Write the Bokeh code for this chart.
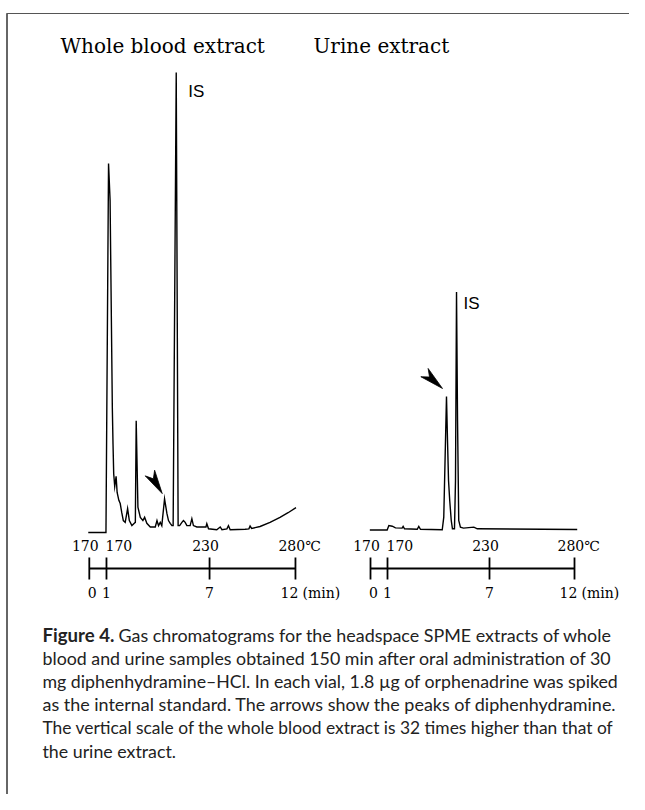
import math
from bokeh.plotting import figure
from bokeh.models import Range1d
from bokeh.core.properties import value
from bokeh.embed import file_html
from bokeh.resources import INLINE

# ---------------- data ----------------
# Whole blood extract: retention time (min) vs detector signal (IS peak = 100)
blood_time = [-0.06, 0.97, 1.12, 1.21, 1.34, 1.38, 1.42, 1.48, 1.56, 1.62, 1.72, 1.80,
              1.89, 1.98, 2.09, 2.23, 2.33, 2.48, 2.62, 2.68, 2.73, 2.83, 2.97, 3.12,
              3.22, 3.35, 3.55, 3.84, 3.94, 4.03, 4.13, 4.22, 4.38, 4.52, 4.61, 4.71,
              4.81, 4.88, 5.06, 5.17, 5.26, 5.39, 5.48, 5.58, 5.68, 5.87, 5.97, 6.06,
              6.26, 6.45, 6.79, 6.84, 6.94, 7.42, 7.62, 7.72, 8.01, 8.10, 8.20, 9.07,
              9.29, 9.36, 9.45, 9.94, 10.52, 11.10, 11.57, 12.03]
blood_signal = [0.0, 0.0, 80.2, 72.2, 27.2, 19.3, 12.8, 10.0, 12.2, 8.7, 7.0, 6.3,
                4.3, 2.6, 2.2, 5.2, 2.6, 1.5, 2.0, 2.2, 24.3, 5.5, 3.3, 2.6,
                3.3, 2.0, 1.2, 1.2, 2.6, 1.5, 2.2, 1.5, 7.3, 4.1, 2.6, 2.0,
                1.5, 1.5, 100.0, 1.5, 1.5, 2.2, 2.6, 2.2, 1.5, 1.5, 3.0, 1.5,
                1.2, 1.2, 1.2, 1.9, 0.8, 0.6, 1.2, 0.6, 0.8, 1.5, 0.6, 0.7,
                0.8, 1.4, 0.9, 1.3, 2.2, 3.3, 4.3, 5.4]

# Urine extract: retention time (min) vs detector signal (IS peak = 100)
urine_time = [-0.04, 0.98, 1.08, 1.28, 1.47, 1.86, 1.92, 2.00, 2.75, 2.84, 2.94,
              4.22, 4.31, 4.47, 4.53, 4.59, 4.66, 4.75, 4.82, 4.94, 5.00, 5.06,
              5.12, 5.19, 5.29, 5.47, 6.08, 6.28, 12.16]
urine_signal = [0.0, 0.0, 1.9, 1.6, 0.9, 0.8, 1.5, 0.5, 0.3, 1.5, 0.3,
                0.1, 5.4, 56.1, 37.6, 20.8, 12.4, 4.0, 0.5, 0.5, 20.8, 100.0,
                46.0, 4.0, 1.2, 0.8, 1.2, 0.5, 0.2]

# retention of diphenhydramine peaks (arrowed)
blood_arrow_peak = 4.38
urine_arrow_peak = 4.47

tick_minutes = [0, 1, 7, 12]
tick_min_labels = ["0", "1", "7", "12"]
tick_temp_labels = ["170", "170", "230", "280\u2103"]
unit_label = "(min)"
panel_titles = ["Whole blood extract", "Urine extract"]
peak_label = "IS"
caption_lead = "Figure 4."
caption_lines = [
    "Gas chromatograms for the headspace SPME extracts of whole",
    "blood and urine samples obtained 150 min after oral administration of 30",
    "mg diphenhydramine\u2013HCl. In each vial, 1.8 \u00b5g of orphenadrine was spiked",
    "as the internal standard. The arrows show the peaks of diphenhydramine.",
    "The vertical scale of the whole blood extract is 32 times higher than that of",
    "the urine extract.",
]

# ---------------- layout (pixels of the picture) ----------------
W, H = 629, 794

SERIF = "DejaVu Serif"
SANS = "Liberation Sans"
CAPFONT = "Lato"

p = figure(width=W, height=H, output_backend="svg", toolbar_location=None,
           x_range=Range1d(0, W), y_range=Range1d(H, 0),
           x_axis_location=None, y_axis_location=None, min_border=0,
           outline_line_color=None, background_fill_color="white",
           border_fill_color="white")
p.grid.visible = False

# box lines of the figure plate
p.line([6.5, 6.5], [H, 13], line_color="#333333", line_width=1.5)
p.line([6, W], [13, 13], line_color="#555555", line_width=1.2)

panels = [
    dict(name="blood", t=blood_time, s=blood_signal, x0=88.8, pxm=17.18, y0=532.0, pyu=4.6,
         title_x=60, arrow_peak=blood_arrow_peak, tip=(-2.3, -5.3), tail=(-12.0, -20.0),
         is_off=(12, 19)),
    dict(name="urine", t=urine_time, s=urine_signal, x0=370.0, pxm=17.0, y0=529.5, pyu=2.38,
         title_x=313, arrow_peak=urine_arrow_peak, tip=(-4.0, -8.0), tail=(-17.0, -15.0),
         is_off=(7, 11)),
]

AXIS_Y = 568
TEMP_Y = 545
MIN_Y = 592
TITLE_Y = 45

temp_align = ["center", "left", "center", "left"]
temp_dx = [-4, -1, -4, -17]
min_dx = [3, 0, 0, -6]

for i, pn in enumerate(panels):
    xn, yn = pn["name"] + "_t", pn["name"] + "_s"
    p.extra_x_ranges[xn] = Range1d((0 - pn["x0"]) / pn["pxm"], (W - pn["x0"]) / pn["pxm"])
    p.extra_y_ranges[yn] = Range1d((pn["y0"] - H) / pn["pyu"], (pn["y0"] - 0) / pn["pyu"])

    # chromatogram trace
    p.line(pn["t"], pn["s"], x_range_name=xn, y_range_name=yn,
           line_color="black", line_width=1.4, line_join="miter")

    # time / temperature axis
    p.line([tick_minutes[0], tick_minutes[-1]], [AXIS_Y, AXIS_Y], x_range_name=xn,
           line_color="black", line_width=1.8)
    p.segment(x0=tick_minutes, x1=tick_minutes, y0=[AXIS_Y - 11] * len(tick_minutes),
              y1=[AXIS_Y + 11] * len(tick_minutes), x_range_name=xn,
              line_color="black", line_width=1.8)
    for k, tm in enumerate(tick_minutes):
        p.text(x=[tm], y=[TEMP_Y], text=[tick_temp_labels[k]], x_range_name=xn,
               x_offset=temp_dx[k], text_align=temp_align[k], text_baseline="middle",
               text_font=value(SERIF), text_font_size="14px", text_color="black")
        p.text(x=[tm], y=[MIN_Y], text=[tick_min_labels[k]], x_range_name=xn,
               x_offset=min_dx[k], text_align="center", text_baseline="middle",
               text_font=value(SERIF), text_font_size="14px", text_color="black")
    p.text(x=[tick_minutes[-1]], y=[MIN_Y], text=[unit_label], x_range_name=xn,
           x_offset=7, text_align="left", text_baseline="middle",
           text_font=value(SERIF), text_font_size="14px", text_color="black")

    # panel title
    p.text(x=[pn["title_x"]], y=[TITLE_Y], text=[panel_titles[i]], text_align="left",
           text_baseline="middle", text_font=value(SERIF), text_font_size="20px",
           text_color="black")

    # IS label next to the highest peak
    s_arr = pn["s"]
    k_is = max(range(len(s_arr)), key=lambda j: s_arr[j])
    p.text(x=[pn["t"][k_is]], y=[s_arr[k_is]], text=[peak_label], x_range_name=xn,
           y_range_name=yn, x_offset=pn["is_off"][0], y_offset=pn["is_off"][1],
           text_align="left", text_baseline="middle", text_font=value(SANS),
           text_font_size="17px", text_color="black")

    # arrowhead (dart) pointing at the diphenhydramine peak
    k_a = min(range(len(pn["t"])), key=lambda j: abs(pn["t"][j] - pn["arrow_peak"]))
    pt, ps = pn["t"][k_a], s_arr[k_a]
    tipx, tipy = pn["tip"]
    dx, dy = -pn["tail"][0], -pn["tail"][1]
    L = math.hypot(dx, dy)
    ux, uy = dx / L, dy / L
    nx, ny = -uy, ux
    length, half_w, notch = 24.0, 5.5, 0.72
    pts_px = [(tipx, tipy),
              (tipx - length * ux + half_w * nx, tipy - length * uy + half_w * ny),
              (tipx - notch * length * ux, tipy - notch * length * uy),
              (tipx - length * ux - half_w * nx, tipy - length * uy - half_w * ny)]
    ax = [pt + qx / pn["pxm"] for qx, qy in pts_px]
    ay = [ps - qy / pn["pyu"] for qx, qy in pts_px]
    p.patch(ax, ay, x_range_name=xn, y_range_name=yn, fill_color="black",
            line_color="black", line_width=0.8)

# caption (justified look: each full line sized to reach the right margin)
CAP_X = 42
CAP_Y0 = 634
CAP_DY = 23.2
cap_sizes = ["17.9px", "17.8px", "17.75px", "17.94px", "17.4px", "17.8px"]
p.text(x=[CAP_X], y=[CAP_Y0], text=[caption_lead], text_align="left",
       text_baseline="middle", text_font=value(CAPFONT), text_font_style="bold",
       text_font_size="18.6px", text_color="#222222")
for j, line in enumerate(caption_lines):
    p.text(x=[CAP_X + (76 if j == 0 else 0)], y=[CAP_Y0 + j * CAP_DY], text=[line],
           text_align="left", text_baseline="middle", text_font=value(CAPFONT),
           text_font_size=cap_sizes[j], text_color="#222222")

open("out.html", "w").write(file_html(p, INLINE))
